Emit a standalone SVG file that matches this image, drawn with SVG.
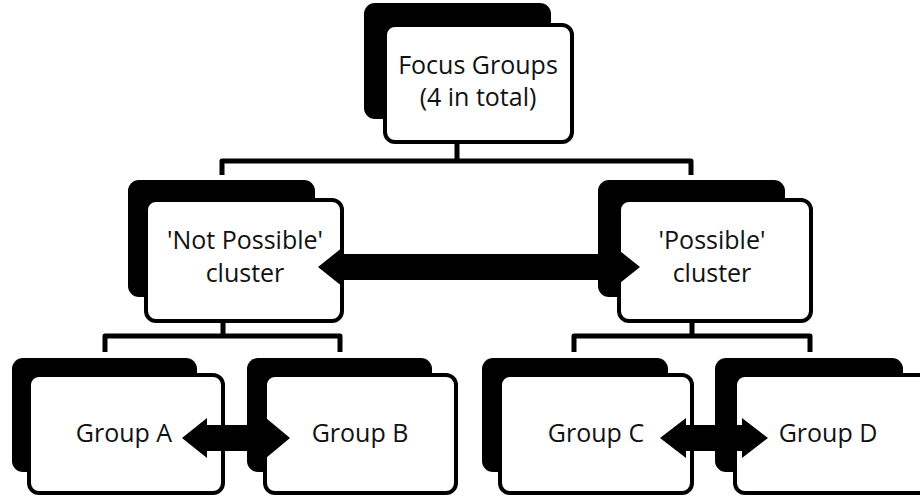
<svg xmlns="http://www.w3.org/2000/svg" width="920" height="497" viewBox="0 0 920 497">
  <style>
    .back { fill: #000; }
    .front { fill: #fff; stroke: #000; stroke-width: 4; }
    .lbl { font-family: "Open Sans", "Noto Sans", sans-serif; font-size: 25px; fill: #111; text-anchor: middle; }
    .line { fill: none; stroke: #000; stroke-width: 5; stroke-linejoin: round; }
    .arrow { fill: #000; }
  </style>
  <rect width="920" height="497" fill="#fff"/>

  <g id="node-focus">
    <rect class="back" x="364" y="3" width="187" height="116" rx="11"/>
    <rect class="front" x="385" y="25" width="187" height="117" rx="10"/>
    <text class="lbl" x="478" y="74">Focus Groups</text>
    <text class="lbl" x="478" y="106">(4 in total)</text>
  </g>

  <g id="node-notpossible">
    <rect class="back" x="128" y="180" width="187" height="117" rx="11"/>
    <rect class="front" x="146" y="200" width="196" height="121" rx="10"/>
    <text class="lbl" x="245" y="249">'Not Possible'</text>
    <text class="lbl" x="245" y="282">cluster</text>
  </g>

  <g id="node-possible">
    <rect class="back" x="598" y="180" width="187" height="117" rx="11"/>
    <rect class="front" x="619" y="200" width="192" height="121" rx="10"/>
    <text class="lbl" x="712" y="249">'Possible'</text>
    <text class="lbl" x="712" y="282">cluster</text>
  </g>

  <g id="node-groupA">
    <rect class="back" x="12" y="358" width="185" height="114" rx="11"/>
    <rect class="front" x="29" y="375" width="194" height="118" rx="10"/>
    <text class="lbl" x="124" y="442">Group A</text>
  </g>

  <g id="node-groupB">
    <rect class="back" x="247" y="358" width="185" height="114" rx="11"/>
    <rect class="front" x="265" y="375" width="191" height="118" rx="10"/>
    <text class="lbl" x="360" y="442">Group B</text>
  </g>

  <g id="node-groupC">
    <rect class="back" x="482" y="358" width="186" height="114" rx="11"/>
    <rect class="front" x="500" y="375" width="192" height="118" rx="10"/>
    <text class="lbl" x="596" y="442">Group C</text>
  </g>

  <g id="node-groupD">
    <rect class="back" x="715" y="358" width="188" height="114" rx="11"/>
    <rect class="front" x="735" y="375" width="195" height="118" rx="10"/>
    <text class="lbl" x="828" y="442">Group D</text>
  </g>

  <g id="connectors">
    <path class="line" d="M457 142 V161 M222 175 V161 H691 V175"/>
    <path class="line" d="M223 321 V336 M105 352 V336 H340 V352"/>
    <path class="line" d="M692 321 V336 M574 352 V336 H810 V352"/>
    <polygon class="arrow" points="318,267 343,247 343,254 615,254 615,247 640,267 615,287 615,280 343,280 343,287"/>
    <polygon class="arrow" points="182,438 207,418 207,425 266,425 266,418 290,438 266,458 266,451 207,451 207,458"/>
    <polygon class="arrow" points="660,438 686,418 686,425 742,425 742,418 768,438 742,458 742,451 686,451 686,458"/>
  </g>
</svg>
